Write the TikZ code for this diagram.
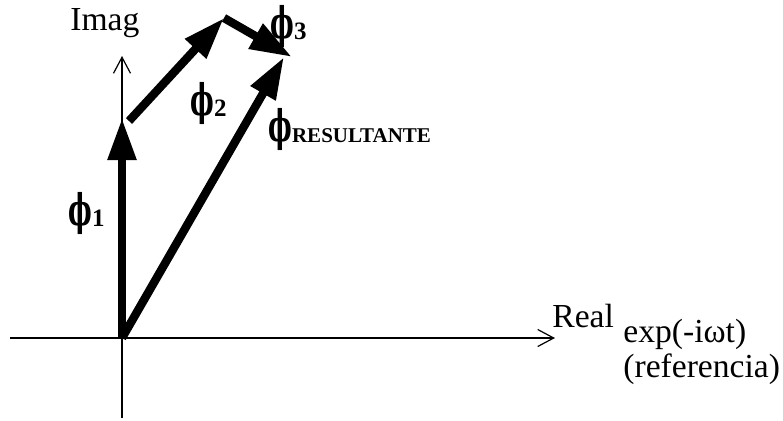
\documentclass[tikz,border=0pt]{standalone}
\usepackage{fontspec}
\usepackage{graphicx}
\setmainfont{Liberation Serif}
\newfontfamily\phifont{DejaVu Serif}
\usetikzlibrary{arrows.meta}

% phasor symbol with bold subscript of given size
\newcommand{\phasorsub}[2][12.5]{\scalebox{0.74}[1.28]{\phifont\bfseries\fontsize{17}{20}\selectfont ϕ}\raisebox{-0.15ex}{\fontsize{#1}{#1}\selectfont #2}}

\begin{document}
\begin{tikzpicture}[x=0.5pt,y=-0.5pt,
    axis/.style={line width=0.6pt, -{Straight Barb[length=8pt,width=8.5pt]}},
    phasor/.style={line width=4.2pt, -{Triangle[length=21pt,width=13.5pt]}},
    lbl/.style={inner sep=0pt, anchor=base west, font=\fontsize{16.8}{19}\selectfont},
    philbl/.style={inner sep=0pt, anchor=west, font=\bfseries}]
    \useasboundingbox (0,0) rectangle (783,420);
    % Axes
    \coordinate (O) at (122,338);
    \coordinate (xleft) at (10,338);
    \coordinate (xright) at (555,338);
    \coordinate (ybottom) at (122,418);
    \coordinate (ytop) at (122,56);
    \draw[axis] (xleft) -- (xright);
    \draw[axis] (ybottom) -- (ytop);
    \node[lbl] (imag) at (70,30) {Imag};
    \node[lbl] (real) at (552,327) {Real};
    \node[lbl] (ref1) at (623,342) {exp(-iωt)};
    \node[lbl] (ref2) at (623,377) {(referencia)};
    % Phasors
    \coordinate (tip1) at (122,118);
    \coordinate (base2) at (129,121);
    \coordinate (tip2) at (224,18);
    \coordinate (tip3) at (292,57);
    \coordinate (tipR) at (284,57);
    \draw[phasor] (O) -- (tip1);
    \draw[phasor] (base2) -- (tip2);
    \draw[phasor] (tip2) -- (tip3);
    \draw[phasor] (O) -- (tipR);
    \node[philbl] (phi1) at (68,213) {\phasorsub{1}};
    \node[philbl] (phi2) at (190,103) {\phasorsub{2}};
    \node[philbl] (phi3) at (270,26) {\phasorsub{3}};
    \node[philbl] (phiR) at (268,129) {\phasorsub[10.5]{RESULTANTE}};
\end{tikzpicture}
\end{document}
